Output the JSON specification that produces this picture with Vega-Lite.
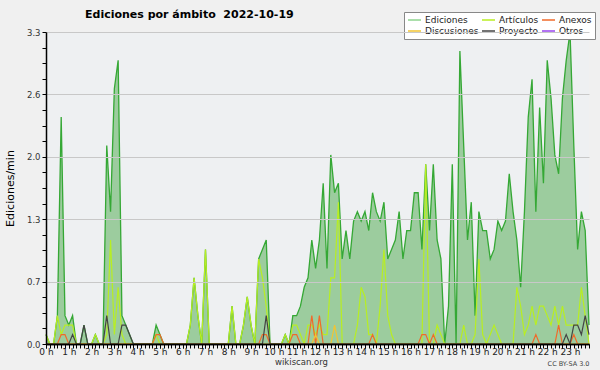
{
"$schema": "https://vega.github.io/schema/vega-lite/v6.json",
"width": 543, "height": 312,
"autosize": "none",
"padding": {"left": 46, "top": 32, "right": 11, "bottom": 26},
"background": "#f0f0f0",
"config": {"view": {"fill": "#eef0f2", "stroke": null}, "font": "DejaVu Sans"},
"title": {"text": "Ediciones por ámbito\u00a0\u00a02022-10-19", "anchor": "start", "frame": "group", "dx": 39, "fontSize": 11, "fontWeight": "bold", "font": "DejaVu Sans", "color": "#000", "offset": -8},
"data": {"values": [
{"t":0,"E":0.1,"A":0.1,"X":0,"D":0,"P":0},
{"t":1,"E":0,"A":0,"X":0,"D":0,"P":0},
{"t":2,"E":0,"A":0,"X":0,"D":0,"P":0},
{"t":3,"E":0.3,"A":0.3,"X":0,"D":0,"P":0},
{"t":4,"E":2.4,"A":0.1,"X":0.1,"D":0,"P":0},
{"t":5,"E":0.3,"A":0.2,"X":0.1,"D":0,"P":0},
{"t":6,"E":0.2,"A":0.2,"X":0,"D":0,"P":0},
{"t":7,"E":0.3,"A":0.2,"X":0,"D":0,"P":0.1},
{"t":8,"E":0,"A":0,"X":0,"D":0,"P":0},
{"t":9,"E":0,"A":0,"X":0,"D":0,"P":0},
{"t":10,"E":0.2,"A":0,"X":0,"D":0,"P":0.2},
{"t":11,"E":0,"A":0,"X":0,"D":0,"P":0},
{"t":12,"E":0,"A":0,"X":0,"D":0,"P":0},
{"t":13,"E":0.1,"A":0.1,"X":0,"D":0,"P":0},
{"t":14,"E":0,"A":0,"X":0,"D":0,"P":0},
{"t":15,"E":0,"A":0,"X":0,"D":0,"P":0},
{"t":16,"E":2.1,"A":0.1,"X":0,"D":0,"P":0.3},
{"t":17,"E":1.4,"A":1.1,"X":0,"D":0,"P":0},
{"t":18,"E":2.7,"A":0.1,"X":0,"D":0,"P":0},
{"t":19,"E":3.0,"A":0.6,"X":0,"D":0,"P":0},
{"t":20,"E":0.3,"A":0.1,"X":0,"D":0,"P":0.2},
{"t":21,"E":0.2,"A":0,"X":0,"D":0,"P":0.2},
{"t":22,"E":0.1,"A":0,"X":0,"D":0,"P":0.1},
{"t":23,"E":0,"A":0,"X":0,"D":0,"P":0},
{"t":24,"E":0,"A":0,"X":0,"D":0,"P":0},
{"t":25,"E":0,"A":0,"X":0,"D":0,"P":0},
{"t":26,"E":0,"A":0,"X":0,"D":0,"P":0},
{"t":27,"E":0,"A":0,"X":0,"D":0,"P":0},
{"t":28,"E":0,"A":0,"X":0,"D":0,"P":0},
{"t":29,"E":0.2,"A":0.1,"X":0.1,"D":0,"P":0},
{"t":30,"E":0.1,"A":0,"X":0.1,"D":0,"P":0},
{"t":31,"E":0,"A":0,"X":0,"D":0,"P":0},
{"t":32,"E":0,"A":0,"X":0,"D":0,"P":0},
{"t":33,"E":0,"A":0,"X":0,"D":0,"P":0},
{"t":34,"E":0,"A":0,"X":0,"D":0,"P":0},
{"t":35,"E":0,"A":0,"X":0,"D":0,"P":0},
{"t":36,"E":0,"A":0,"X":0,"D":0,"P":0},
{"t":37,"E":0,"A":0,"X":0,"D":0,"P":0},
{"t":38,"E":0.2,"A":0.2,"X":0,"D":0,"P":0},
{"t":39,"E":0.7,"A":0.7,"X":0,"D":0,"P":0},
{"t":40,"E":0.3,"A":0.3,"X":0,"D":0,"P":0},
{"t":41,"E":0,"A":0,"X":0,"D":0,"P":0},
{"t":42,"E":1.0,"A":1.0,"X":0,"D":0,"P":0},
{"t":43,"E":0,"A":0,"X":0,"D":0,"P":0},
{"t":44,"E":0,"A":0,"X":0,"D":0,"P":0},
{"t":45,"E":0,"A":0,"X":0,"D":0,"P":0},
{"t":46,"E":0,"A":0,"X":0,"D":0,"P":0},
{"t":47,"E":0,"A":0,"X":0,"D":0,"P":0},
{"t":48,"E":0,"A":0,"X":0,"D":0,"P":0},
{"t":49,"E":0.4,"A":0.4,"X":0,"D":0,"P":0},
{"t":50,"E":0,"A":0,"X":0,"D":0,"P":0},
{"t":51,"E":0,"A":0,"X":0,"D":0,"P":0},
{"t":52,"E":0.2,"A":0.2,"X":0,"D":0,"P":0},
{"t":53,"E":0.5,"A":0.5,"X":0,"D":0,"P":0},
{"t":54,"E":0.2,"A":0.2,"X":0,"D":0,"P":0},
{"t":55,"E":0,"A":0,"X":0,"D":0,"P":0},
{"t":56,"E":0.9,"A":0.9,"X":0,"D":0,"P":0},
{"t":57,"E":1.0,"A":0.7,"X":0.1,"D":0,"P":0},
{"t":58,"E":1.1,"A":0.4,"X":0.1,"D":0,"P":0.3},
{"t":59,"E":0,"A":0,"X":0,"D":0,"P":0},
{"t":60,"E":0,"A":0,"X":0,"D":0,"P":0},
{"t":61,"E":0,"A":0,"X":0,"D":0,"P":0},
{"t":62,"E":0,"A":0,"X":0,"D":0,"P":0},
{"t":63,"E":0.1,"A":0.1,"X":0,"D":0,"P":0},
{"t":64,"E":0,"A":0,"X":0,"D":0,"P":0},
{"t":65,"E":0.3,"A":0.2,"X":0.1,"D":0,"P":0},
{"t":66,"E":0.3,"A":0.2,"X":0.1,"D":0,"P":0},
{"t":67,"E":0.4,"A":0.1,"X":0,"D":0,"P":0},
{"t":68,"E":0.6,"A":0,"X":0,"D":0,"P":0},
{"t":69,"E":0.7,"A":0.2,"X":0,"D":0,"P":0},
{"t":70,"E":1.1,"A":0.2,"X":0.3,"D":0,"P":0},
{"t":71,"E":0.8,"A":0.1,"X":0,"D":0.1,"P":0},
{"t":72,"E":1.1,"A":0.2,"X":0.3,"D":0,"P":0},
{"t":73,"E":1.7,"A":0.1,"X":0,"D":0,"P":0},
{"t":74,"E":0.8,"A":0.1,"X":0,"D":0,"P":0},
{"t":75,"E":2.0,"A":0.7,"X":0,"D":0,"P":0},
{"t":76,"E":1.6,"A":0.7,"X":0,"D":0.2,"P":0},
{"t":77,"E":1.7,"A":1.5,"X":0,"D":0,"P":0},
{"t":78,"E":0.9,"A":0,"X":0,"D":0,"P":0},
{"t":79,"E":1.2,"A":0,"X":0,"D":0,"P":0},
{"t":80,"E":0.9,"A":0,"X":0,"D":0,"P":0},
{"t":81,"E":1.3,"A":0,"X":0,"D":0,"P":0},
{"t":82,"E":1.4,"A":0.2,"X":0,"D":0,"P":0},
{"t":83,"E":1.3,"A":0.6,"X":0,"D":0,"P":0},
{"t":84,"E":1.4,"A":0.5,"X":0,"D":0,"P":0},
{"t":85,"E":1.2,"A":0.1,"X":0,"D":0,"P":0},
{"t":86,"E":1.6,"A":0.1,"X":0.1,"D":0,"P":0},
{"t":87,"E":1.4,"A":0,"X":0,"D":0,"P":0},
{"t":88,"E":1.3,"A":0.4,"X":0,"D":0,"P":0},
{"t":89,"E":1.5,"A":1.0,"X":0,"D":0,"P":0},
{"t":90,"E":0.9,"A":0.3,"X":0,"D":0,"P":0},
{"t":91,"E":1.0,"A":0.1,"X":0,"D":0,"P":0},
{"t":92,"E":1.1,"A":0,"X":0,"D":0,"P":0},
{"t":93,"E":1.4,"A":0,"X":0,"D":0,"P":0},
{"t":94,"E":0.9,"A":0,"X":0,"D":0,"P":0},
{"t":95,"E":1.2,"A":0,"X":0,"D":0,"P":0},
{"t":96,"E":1.2,"A":0,"X":0,"D":0,"P":0},
{"t":97,"E":1.6,"A":0,"X":0,"D":0,"P":0},
{"t":98,"E":1.6,"A":0,"X":0,"D":0,"P":0},
{"t":99,"E":1.0,"A":0,"X":0.1,"D":0,"P":0},
{"t":100,"E":1.9,"A":1.9,"X":0.1,"D":0,"P":0},
{"t":101,"E":1.2,"A":0,"X":0,"D":0,"P":0},
{"t":102,"E":1.9,"A":0,"X":0.1,"D":0,"P":0},
{"t":103,"E":1.1,"A":0.2,"X":0,"D":0,"P":0},
{"t":104,"E":0.9,"A":0.1,"X":0,"D":0,"P":0},
{"t":105,"E":0,"A":0,"X":0,"D":0,"P":0},
{"t":106,"E":0.4,"A":0,"X":0,"D":0,"P":0},
{"t":107,"E":1.9,"A":0,"X":0,"D":0,"P":0},
{"t":108,"E":0,"A":0,"X":0,"D":0,"P":0},
{"t":109,"E":3.1,"A":0,"X":0,"D":0,"P":0},
{"t":110,"E":2.1,"A":0.2,"X":0,"D":0,"P":0},
{"t":111,"E":1.1,"A":0,"X":0,"D":0,"P":0},
{"t":112,"E":1.5,"A":0,"X":0,"D":0,"P":0},
{"t":113,"E":0.3,"A":0.1,"X":0,"D":0,"P":0},
{"t":114,"E":1.4,"A":0.9,"X":0,"D":0,"P":0},
{"t":115,"E":1.2,"A":0.1,"X":0,"D":0,"P":0},
{"t":116,"E":1.2,"A":0,"X":0,"D":0,"P":0},
{"t":117,"E":0.9,"A":0.1,"X":0,"D":0,"P":0},
{"t":118,"E":1.0,"A":0.2,"X":0,"D":0,"P":0},
{"t":119,"E":1.3,"A":0.1,"X":0,"D":0,"P":0},
{"t":120,"E":1.2,"A":0,"X":0,"D":0,"P":0},
{"t":121,"E":1.3,"A":0,"X":0,"D":0,"P":0},
{"t":122,"E":1.8,"A":0,"X":0,"D":0,"P":0},
{"t":123,"E":1.4,"A":0,"X":0,"D":0,"P":0},
{"t":124,"E":1.1,"A":0.6,"X":0,"D":0,"P":0},
{"t":125,"E":0.6,"A":0.4,"X":0,"D":0,"P":0},
{"t":126,"E":1.4,"A":0.1,"X":0,"D":0,"P":0},
{"t":127,"E":2.4,"A":0.2,"X":0,"D":0,"P":0},
{"t":128,"E":2.8,"A":0.4,"X":0,"D":0,"P":0},
{"t":129,"E":1.4,"A":0.2,"X":0.1,"D":0,"P":0},
{"t":130,"E":2.5,"A":0.4,"X":0,"D":0,"P":0},
{"t":131,"E":1.7,"A":0.4,"X":0,"D":0,"P":0},
{"t":132,"E":3.0,"A":0.3,"X":0,"D":0,"P":0},
{"t":133,"E":2.6,"A":0.2,"X":0,"D":0,"P":0},
{"t":134,"E":2.0,"A":0.4,"X":0,"D":0,"P":0},
{"t":135,"E":1.8,"A":0.2,"X":0.2,"D":0,"P":0},
{"t":136,"E":2.6,"A":0.4,"X":0,"D":0,"P":0},
{"t":137,"E":3.0,"A":0.2,"X":0,"D":0,"P":0.1},
{"t":138,"E":3.3,"A":0.2,"X":0,"D":0,"P":0},
{"t":139,"E":2.1,"A":0.2,"X":0.1,"D":0,"P":0.2},
{"t":140,"E":1.0,"A":0.2,"X":0,"D":0,"P":0.2},
{"t":141,"E":1.4,"A":0.6,"X":0,"D":0,"P":0.1},
{"t":142,"E":1.2,"A":0.3,"X":0,"D":0,"P":0.3},
{"t":143,"E":0.2,"A":0,"X":0,"D":0,"P":0.1}
]},
"layer": [
{
"mark": {"type": "area", "fill": "#5aaf5a", "fillOpacity": 0.55, "line": false},
"encoding": {
"x": {"field": "t", "type": "quantitative", "scale": {"domain": [0, 143], "nice": false, "zero": false},
"axis": {"orient": "bottom", "values": [0,6,12,18,24,30,36,42,48,54,60,66,72,78,84,90,96,102,108,114,120,126,132,138], "labelExpr": "(datum.value/6) + ' h'", "labelFontSize": 9, "labelColor": "#222", "labelPadding": -1, "labelFlush": false, "labelOverlap": false, "tickSize": 4, "tickColor": "#000", "domainColor": "#000", "domainWidth": 1.5, "grid": false, "title": "wikiscan.org", "titleFontSize": 8.5, "titleFontWeight": "normal", "titleColor": "#333", "titleX": 255, "titleY": 20, "titleBaseline": "alphabetic", "titleAlign": "center", "zindex": 1}},
"y": {"field": "E", "type": "quantitative", "scale": {"domain": [0, 3.3], "nice": false},
"axis": {"orient": "left", "values": [0, 0.66, 1.32, 1.98, 2.64, 3.3], "labelExpr": "format(datum.value, '.1f')", "labelFontSize": 8.5, "labelColor": "#333", "labelPadding": 2, "tickSize": 4, "tickColor": "#000", "domainColor": "#000", "domainWidth": 1.5, "grid": true, "gridColor": "#c8c8c8", "title": "Ediciones/min", "titleFontSize": 11, "titleFontWeight": "normal", "titleColor": "#000", "titlePadding": 11, "zindex": 1}}
}
},
{
"mark": {"type": "line", "color": "#35a835", "strokeWidth": 1.3},
"encoding": {
"x": {"field": "t", "type": "quantitative", "scale": {"domain": [0, 143], "nice": false, "zero": false},
"axis": {"orient": "bottom", "values": [0,1,2,3,4,5,6,7,8,9,10,11,12,13,14,15,16,17,18,19,20,21,22,23,24,25,26,27,28,29,30,31,32,33,34,35,36,37,38,39,40,41,42,43,44,45,46,47,48,49,50,51,52,53,54,55,56,57,58,59,60,61,62,63,64,65,66,67,68,69,70,71,72,73,74,75,76,77,78,79,80,81,82,83,84,85,86,87,88,89,90,91,92,93,94,95,96,97,98,99,100,101,102,103,104,105,106,107,108,109,110,111,112,113,114,115,116,117,118,119,120,121,122,123,124,125,126,127,128,129,130,131,132,133,134,135,136,137,138,139,140,141,142,143], "labels": false, "tickSize": 4, "tickColor": "#000", "domainColor": "#000", "domainWidth": 1.5, "grid": false, "title": "CC BY-SA 3.0", "titleFontSize": 6.5, "titleFontWeight": "normal", "titleColor": "#444", "titleX": 543, "titleY": 21, "titleAlign": "right", "titleBaseline": "alphabetic", "zindex": 1}},
"y": {"field": "E", "type": "quantitative", "scale": {"domain": [0, 3.3], "nice": false},
"axis": {"orient": "left", "values": [0.165,0.33,0.495,0.825,0.99,1.155,1.485,1.65,1.815,2.145,2.31,2.475,2.805,2.97,3.135], "labels": false, "tickSize": 4, "tickColor": "#000", "domain": false, "grid": false, "title": null, "zindex": 1}}
}
},
{
"transform": [{"fold": ["A", "X", "D", "P"], "as": ["serie", "valor"]}],
"mark": {"type": "line", "strokeWidth": 1.2},
"encoding": {
"x": {"field": "t", "type": "quantitative", "scale": {"domain": [0, 143], "nice": false, "zero": false}, "axis": null},
"y": {"field": "valor", "type": "quantitative", "scale": {"domain": [0, 3.3], "nice": false}, "axis": null},
"color": {"field": "serie", "type": "nominal",
"scale": {"domain": ["E", "D", "A", "P", "X", "O"], "range": ["#8fd48f", "#f2c432", "#b8ee22", "#444444", "#f06a2a", "#9944ee"]},
"legend": {"orient": "none", "legendX": 358, "legendY": -20, "columns": 3, "title": null, "symbolType": "stroke", "symbolSize": 169, "symbolStrokeWidth": 1.3, "clipHeight": 10, "labelFontSize": 9, "labelFont": "DejaVu Sans", "labelColor": "#222", "labelOffset": 3, "rowPadding": 1, "columnPadding": 2, "padding": 3, "fillColor": "#ffffff", "strokeColor": "#888888",
"labelExpr": "{'E': 'Ediciones', 'A': 'Artículos', 'X': 'Anexos', 'D': 'Discusiones', 'P': 'Proyecto', 'O': 'Otros'}[datum.label]"}}
}
}
],
"resolve": {"axis": {"x": "independent", "y": "independent"}}
}
